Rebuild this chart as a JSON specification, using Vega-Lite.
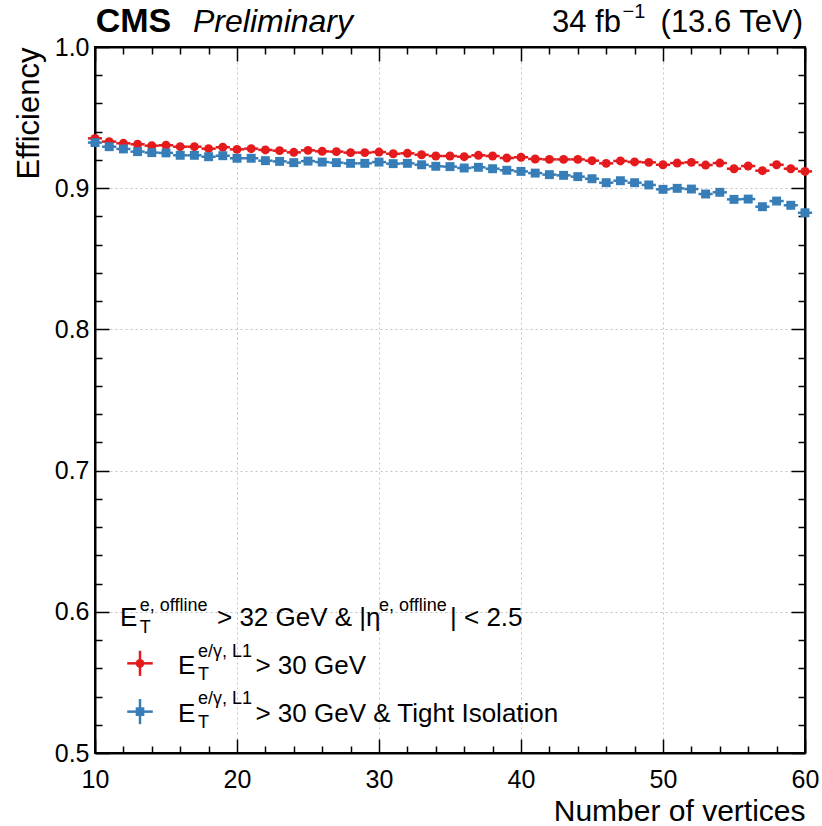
{
  "$schema": "https://vega.github.io/schema/vega-lite/v6.json",
  "width": 710,
  "height": 706,
  "autosize": {"type": "none"},
  "padding": {"left": 95, "top": 47, "right": 17, "bottom": 73},
  "background": "white",
  "config": {
    "view": {"stroke": "#000", "strokeWidth": 2},
    "font": "Liberation Sans",
    "axis": {"domainColor": "#000", "domainWidth": 2, "tickColor": "#000", "tickWidth": 1.5, "labelColor": "#000", "titleColor": "#000", "labelFont": "Liberation Sans", "titleFont": "Liberation Sans", "titleFontWeight": "normal"}
  },
  "datasets": {
    "eff": [
      {"nvtx":10,"series":"L1","eff":0.9353,"err":0.0008,"xerr":0.5},
      {"nvtx":11,"series":"L1","eff":0.9330,"err":0.0008,"xerr":0.5},
      {"nvtx":12,"series":"L1","eff":0.9318,"err":0.0008,"xerr":0.5},
      {"nvtx":13,"series":"L1","eff":0.9311,"err":0.0008,"xerr":0.5},
      {"nvtx":14,"series":"L1","eff":0.9301,"err":0.0008,"xerr":0.5},
      {"nvtx":15,"series":"L1","eff":0.9304,"err":0.0008,"xerr":0.5},
      {"nvtx":16,"series":"L1","eff":0.9294,"err":0.0008,"xerr":0.5},
      {"nvtx":17,"series":"L1","eff":0.9294,"err":0.0008,"xerr":0.5},
      {"nvtx":18,"series":"L1","eff":0.9280,"err":0.0008,"xerr":0.5},
      {"nvtx":19,"series":"L1","eff":0.9290,"err":0.0008,"xerr":0.5},
      {"nvtx":20,"series":"L1","eff":0.9275,"err":0.0008,"xerr":0.5},
      {"nvtx":21,"series":"L1","eff":0.9280,"err":0.0008,"xerr":0.5},
      {"nvtx":22,"series":"L1","eff":0.9271,"err":0.0008,"xerr":0.5},
      {"nvtx":23,"series":"L1","eff":0.9266,"err":0.0008,"xerr":0.5},
      {"nvtx":24,"series":"L1","eff":0.9254,"err":0.0008,"xerr":0.5},
      {"nvtx":25,"series":"L1","eff":0.9268,"err":0.0008,"xerr":0.5},
      {"nvtx":26,"series":"L1","eff":0.9261,"err":0.0008,"xerr":0.5},
      {"nvtx":27,"series":"L1","eff":0.9259,"err":0.0008,"xerr":0.5},
      {"nvtx":28,"series":"L1","eff":0.9252,"err":0.0008,"xerr":0.5},
      {"nvtx":29,"series":"L1","eff":0.9252,"err":0.0008,"xerr":0.5},
      {"nvtx":30,"series":"L1","eff":0.9256,"err":0.0008,"xerr":0.5},
      {"nvtx":31,"series":"L1","eff":0.9244,"err":0.0010,"xerr":0.5},
      {"nvtx":32,"series":"L1","eff":0.9247,"err":0.0010,"xerr":0.5},
      {"nvtx":33,"series":"L1","eff":0.9237,"err":0.0010,"xerr":0.5},
      {"nvtx":34,"series":"L1","eff":0.9228,"err":0.0010,"xerr":0.5},
      {"nvtx":35,"series":"L1","eff":0.9228,"err":0.0010,"xerr":0.5},
      {"nvtx":36,"series":"L1","eff":0.9223,"err":0.0010,"xerr":0.5},
      {"nvtx":37,"series":"L1","eff":0.9233,"err":0.0010,"xerr":0.5},
      {"nvtx":38,"series":"L1","eff":0.9228,"err":0.0010,"xerr":0.5},
      {"nvtx":39,"series":"L1","eff":0.9214,"err":0.0010,"xerr":0.5},
      {"nvtx":40,"series":"L1","eff":0.9219,"err":0.0012,"xerr":0.5},
      {"nvtx":41,"series":"L1","eff":0.9207,"err":0.0012,"xerr":0.5},
      {"nvtx":42,"series":"L1","eff":0.9204,"err":0.0012,"xerr":0.5},
      {"nvtx":43,"series":"L1","eff":0.9204,"err":0.0012,"xerr":0.5},
      {"nvtx":44,"series":"L1","eff":0.9204,"err":0.0012,"xerr":0.5},
      {"nvtx":45,"series":"L1","eff":0.9195,"err":0.0014,"xerr":0.5},
      {"nvtx":46,"series":"L1","eff":0.9176,"err":0.0014,"xerr":0.5},
      {"nvtx":47,"series":"L1","eff":0.9193,"err":0.0014,"xerr":0.5},
      {"nvtx":48,"series":"L1","eff":0.9186,"err":0.0015,"xerr":0.5},
      {"nvtx":49,"series":"L1","eff":0.9183,"err":0.0015,"xerr":0.5},
      {"nvtx":50,"series":"L1","eff":0.9166,"err":0.0016,"xerr":0.5},
      {"nvtx":51,"series":"L1","eff":0.9178,"err":0.0017,"xerr":0.5},
      {"nvtx":52,"series":"L1","eff":0.9183,"err":0.0018,"xerr":0.5},
      {"nvtx":53,"series":"L1","eff":0.9164,"err":0.0019,"xerr":0.5},
      {"nvtx":54,"series":"L1","eff":0.9178,"err":0.0020,"xerr":0.5},
      {"nvtx":55,"series":"L1","eff":0.9138,"err":0.0021,"xerr":0.5},
      {"nvtx":56,"series":"L1","eff":0.9157,"err":0.0022,"xerr":0.5},
      {"nvtx":57,"series":"L1","eff":0.9124,"err":0.0024,"xerr":0.5},
      {"nvtx":58,"series":"L1","eff":0.9166,"err":0.0025,"xerr":0.5},
      {"nvtx":59,"series":"L1","eff":0.9138,"err":0.0027,"xerr":0.5},
      {"nvtx":60,"series":"L1","eff":0.9119,"err":0.0029,"xerr":0.5},
      {"nvtx":10,"series":"Iso","eff":0.9323,"err":0.0008,"xerr":0.5},
      {"nvtx":11,"series":"Iso","eff":0.9294,"err":0.0008,"xerr":0.5},
      {"nvtx":12,"series":"Iso","eff":0.9278,"err":0.0008,"xerr":0.5},
      {"nvtx":13,"series":"Iso","eff":0.9259,"err":0.0008,"xerr":0.5},
      {"nvtx":14,"series":"Iso","eff":0.9252,"err":0.0008,"xerr":0.5},
      {"nvtx":15,"series":"Iso","eff":0.9250,"err":0.0008,"xerr":0.5},
      {"nvtx":16,"series":"Iso","eff":0.9233,"err":0.0008,"xerr":0.5},
      {"nvtx":17,"series":"Iso","eff":0.9233,"err":0.0008,"xerr":0.5},
      {"nvtx":18,"series":"Iso","eff":0.9223,"err":0.0008,"xerr":0.5},
      {"nvtx":19,"series":"Iso","eff":0.9230,"err":0.0008,"xerr":0.5},
      {"nvtx":20,"series":"Iso","eff":0.9212,"err":0.0008,"xerr":0.5},
      {"nvtx":21,"series":"Iso","eff":0.9212,"err":0.0008,"xerr":0.5},
      {"nvtx":22,"series":"Iso","eff":0.9195,"err":0.0008,"xerr":0.5},
      {"nvtx":23,"series":"Iso","eff":0.9190,"err":0.0008,"xerr":0.5},
      {"nvtx":24,"series":"Iso","eff":0.9181,"err":0.0008,"xerr":0.5},
      {"nvtx":25,"series":"Iso","eff":0.9192,"err":0.0008,"xerr":0.5},
      {"nvtx":26,"series":"Iso","eff":0.9185,"err":0.0008,"xerr":0.5},
      {"nvtx":27,"series":"Iso","eff":0.9181,"err":0.0008,"xerr":0.5},
      {"nvtx":28,"series":"Iso","eff":0.9176,"err":0.0008,"xerr":0.5},
      {"nvtx":29,"series":"Iso","eff":0.9176,"err":0.0008,"xerr":0.5},
      {"nvtx":30,"series":"Iso","eff":0.9185,"err":0.0008,"xerr":0.5},
      {"nvtx":31,"series":"Iso","eff":0.9174,"err":0.0010,"xerr":0.5},
      {"nvtx":32,"series":"Iso","eff":0.9176,"err":0.0010,"xerr":0.5},
      {"nvtx":33,"series":"Iso","eff":0.9166,"err":0.0010,"xerr":0.5},
      {"nvtx":34,"series":"Iso","eff":0.9155,"err":0.0010,"xerr":0.5},
      {"nvtx":35,"series":"Iso","eff":0.9153,"err":0.0010,"xerr":0.5},
      {"nvtx":36,"series":"Iso","eff":0.9143,"err":0.0010,"xerr":0.5},
      {"nvtx":37,"series":"Iso","eff":0.9148,"err":0.0010,"xerr":0.5},
      {"nvtx":38,"series":"Iso","eff":0.9138,"err":0.0010,"xerr":0.5},
      {"nvtx":39,"series":"Iso","eff":0.9127,"err":0.0010,"xerr":0.5},
      {"nvtx":40,"series":"Iso","eff":0.9119,"err":0.0012,"xerr":0.5},
      {"nvtx":41,"series":"Iso","eff":0.9107,"err":0.0012,"xerr":0.5},
      {"nvtx":42,"series":"Iso","eff":0.9096,"err":0.0012,"xerr":0.5},
      {"nvtx":43,"series":"Iso","eff":0.9091,"err":0.0012,"xerr":0.5},
      {"nvtx":44,"series":"Iso","eff":0.9082,"err":0.0012,"xerr":0.5},
      {"nvtx":45,"series":"Iso","eff":0.9067,"err":0.0014,"xerr":0.5},
      {"nvtx":46,"series":"Iso","eff":0.9039,"err":0.0014,"xerr":0.5},
      {"nvtx":47,"series":"Iso","eff":0.9053,"err":0.0014,"xerr":0.5},
      {"nvtx":48,"series":"Iso","eff":0.9039,"err":0.0015,"xerr":0.5},
      {"nvtx":49,"series":"Iso","eff":0.9023,"err":0.0015,"xerr":0.5},
      {"nvtx":50,"series":"Iso","eff":0.8992,"err":0.0016,"xerr":0.5},
      {"nvtx":51,"series":"Iso","eff":0.8999,"err":0.0017,"xerr":0.5},
      {"nvtx":52,"series":"Iso","eff":0.8994,"err":0.0018,"xerr":0.5},
      {"nvtx":53,"series":"Iso","eff":0.8959,"err":0.0019,"xerr":0.5},
      {"nvtx":54,"series":"Iso","eff":0.8971,"err":0.0020,"xerr":0.5},
      {"nvtx":55,"series":"Iso","eff":0.8921,"err":0.0021,"xerr":0.5},
      {"nvtx":56,"series":"Iso","eff":0.8923,"err":0.0022,"xerr":0.5},
      {"nvtx":57,"series":"Iso","eff":0.8869,"err":0.0024,"xerr":0.5},
      {"nvtx":58,"series":"Iso","eff":0.8909,"err":0.0025,"xerr":0.5},
      {"nvtx":59,"series":"Iso","eff":0.8879,"err":0.0027,"xerr":0.5},
      {"nvtx":60,"series":"Iso","eff":0.8826,"err":0.0029,"xerr":0.5}
    ]
  },
  "resolve": {"axis": {"x": "independent", "y": "independent"}},
  "layer": [
    {
      "data": {"name": "eff"},
      "mark": {"type": "errorbar", "thickness": 2.5},
      "encoding": {
        "x": {"field": "nvtx", "type": "quantitative", "scale": {"domain": [10, 60], "nice": false, "zero": false}, "axis": null},
        "xError": {"field": "xerr"},
        "y": {"field": "eff", "type": "quantitative", "scale": {"domain": [0.5, 1.0], "nice": false, "zero": false}, "axis": null},
        "color": {"field": "series", "type": "nominal", "scale": {"domain": ["L1", "Iso"], "range": ["#e41a1c", "#377eb8"]}, "legend": null}
      }
    },
    {
      "data": {"name": "eff"},
      "mark": {"type": "errorbar", "thickness": 2.5},
      "encoding": {
        "x": {"field": "nvtx", "type": "quantitative", "axis": null},
        "y": {"field": "eff", "type": "quantitative", "axis": null},
        "yError": {"field": "err"},
        "color": {"field": "series", "type": "nominal", "legend": null}
      }
    },
    {
      "data": {"name": "eff"},
      "mark": {"type": "point", "filled": true, "opacity": 1},
      "encoding": {
        "x": {"field": "nvtx", "type": "quantitative",
          "axis": {"orient": "bottom", "values": [10,12,14,16,18,20,22,24,26,28,30,32,34,36,38,40,42,44,46,48,50,52,54,56,58,60],
            "labelExpr": "datum.value % 10 === 0 ? datum.label : ''",
            "tickSize": {"condition": {"test": "datum.value % 10 === 0", "value": -14}, "value": -7},
            "labelPadding": 28, "labelFontSize": 25, "labelFlush": false,
            "grid": true, "gridDash": [2, 3], "gridColor": "#c4c4c4", "gridWidth": 1,
            "gridOpacity": {"condition": {"test": "datum.value % 10 === 0", "value": 1}, "value": 0},
            "title": "Number of vertices", "titleFontSize": 30, "titleAnchor": "end", "titlePadding": 4}},
        "y": {"field": "eff", "type": "quantitative",
          "axis": {"orient": "left", "values": [0.5,0.52,0.54,0.56,0.58,0.6,0.62,0.64,0.66,0.68,0.7,0.72,0.74,0.76,0.78,0.8,0.82,0.84,0.86,0.88,0.9,0.92,0.94,0.96,0.98,1.0],
            "format": ".1f",
            "labelExpr": "abs(datum.value*10 - round(datum.value*10)) < 0.001 ? datum.label : ''",
            "tickSize": {"condition": {"test": "abs(datum.value*10 - round(datum.value*10)) < 0.001", "value": -14}, "value": -7},
            "labelPadding": 20, "labelFontSize": 25,
            "grid": true, "gridDash": [2, 3], "gridColor": "#c4c4c4", "gridWidth": 1,
            "gridOpacity": {"condition": {"test": "abs(datum.value*10 - round(datum.value*10)) < 0.001", "value": 1}, "value": 0},
            "title": "Efficiency", "titleFontSize": 31, "titleAnchor": "end", "titlePadding": 9}},
        "color": {"field": "series", "type": "nominal", "legend": null},
        "shape": {"field": "series", "type": "nominal", "scale": {"domain": ["L1", "Iso"], "range": ["circle", "square"]}, "legend": null},
        "size": {"value": 80}
      }
    },
    {
      "data": {"name": "eff"},
      "mark": {"type": "point", "opacity": 0},
      "encoding": {
        "x": {"field": "nvtx", "type": "quantitative",
          "axis": {"orient": "top", "values": [10,12,14,16,18,20,22,24,26,28,30,32,34,36,38,40,42,44,46,48,50,52,54,56,58,60],
            "labels": false, "title": null, "grid": false,
            "tickSize": {"condition": {"test": "datum.value % 10 === 0", "value": -14}, "value": -7}}},
        "y": {"field": "eff", "type": "quantitative",
          "axis": {"orient": "right", "values": [0.5,0.52,0.54,0.56,0.58,0.6,0.62,0.64,0.66,0.68,0.7,0.72,0.74,0.76,0.78,0.8,0.82,0.84,0.86,0.88,0.9,0.92,0.94,0.96,0.98,1.0],
            "labels": false, "title": null, "grid": false,
            "tickSize": {"condition": {"test": "abs(datum.value*10 - round(datum.value*10)) < 0.001", "value": -14}, "value": -7}}}
      }
    },
    {
      "data": {"values": [{"t": "CMS"}]},
      "mark": {"type": "text", "font": "Liberation Sans", "fontWeight": "bold", "fontSize": 34, "align": "left", "baseline": "alphabetic", "color": "#000"},
      "encoding": {"x": {"datum": 10.05, "type": "quantitative", "axis": null}, "y": {"datum": 1.0104, "type": "quantitative", "axis": null}, "text": {"field": "t"}}
    },
    {
      "data": {"values": [{"t": "Preliminary"}]},
      "mark": {"type": "text", "font": "Liberation Sans", "fontStyle": "italic", "fontSize": 32, "align": "left", "baseline": "alphabetic", "color": "#000"},
      "encoding": {"x": {"datum": 16.9, "type": "quantitative", "axis": null}, "y": {"datum": 1.0104, "type": "quantitative", "axis": null}, "text": {"field": "t"}}
    },
    {
      "data": {"values": [{"t": "34 fb"}]},
      "mark": {"type": "text", "font": "Liberation Sans", "fontSize": 31, "align": "left", "baseline": "alphabetic", "color": "#000"},
      "encoding": {"x": {"datum": 42.18, "type": "quantitative", "axis": null}, "y": {"datum": 1.0104, "type": "quantitative", "axis": null}, "text": {"field": "t"}}
    },
    {
      "data": {"values": [{"t": "−1"}]},
      "mark": {"type": "text", "font": "Liberation Sans", "fontSize": 20, "align": "left", "baseline": "alphabetic", "color": "#000"},
      "encoding": {"x": {"datum": 47.15, "type": "quantitative", "axis": null}, "y": {"datum": 1.0204, "type": "quantitative", "axis": null}, "text": {"field": "t"}}
    },
    {
      "data": {"values": [{"t": "(13.6 TeV)"}]},
      "mark": {"type": "text", "font": "Liberation Sans", "fontSize": 31, "align": "right", "baseline": "alphabetic", "color": "#000"},
      "encoding": {"x": {"datum": 59.86, "type": "quantitative", "axis": null}, "y": {"datum": 1.0104, "type": "quantitative", "axis": null}, "text": {"field": "t"}}
    },
    {
      "data": {"values": [{"t": "E"}]},
      "mark": {"type": "text", "font": "Liberation Sans", "fontSize": 26, "align": "left", "baseline": "alphabetic", "color": "#000"},
      "encoding": {"x": {"datum": 11.76, "type": "quantitative", "axis": null}, "y": {"datum": 0.5899, "type": "quantitative", "axis": null}, "text": {"field": "t"}}
    },
    {
      "data": {"values": [{"t": "e, offline"}]},
      "mark": {"type": "text", "font": "Liberation Sans", "fontSize": 18, "align": "left", "baseline": "alphabetic", "color": "#000"},
      "encoding": {"x": {"datum": 13.15, "type": "quantitative", "axis": null}, "y": {"datum": 0.6004, "type": "quantitative", "axis": null}, "text": {"field": "t"}}
    },
    {
      "data": {"values": [{"t": "T"}]},
      "mark": {"type": "text", "font": "Liberation Sans", "fontSize": 18, "align": "left", "baseline": "alphabetic", "color": "#000"},
      "encoding": {"x": {"datum": 13.15, "type": "quantitative", "axis": null}, "y": {"datum": 0.5853, "type": "quantitative", "axis": null}, "text": {"field": "t"}}
    },
    {
      "data": {"values": [{"t": "> 32 GeV & |η"}]},
      "mark": {"type": "text", "font": "Liberation Sans", "fontSize": 26, "align": "left", "baseline": "alphabetic", "color": "#000"},
      "encoding": {"x": {"datum": 18.59, "type": "quantitative", "axis": null}, "y": {"datum": 0.5899, "type": "quantitative", "axis": null}, "text": {"field": "t"}}
    },
    {
      "data": {"values": [{"t": "e, offline"}]},
      "mark": {"type": "text", "font": "Liberation Sans", "fontSize": 18, "align": "left", "baseline": "alphabetic", "color": "#000"},
      "encoding": {"x": {"datum": 30.0, "type": "quantitative", "axis": null}, "y": {"datum": 0.6004, "type": "quantitative", "axis": null}, "text": {"field": "t"}}
    },
    {
      "data": {"values": [{"t": "| < 2.5"}]},
      "mark": {"type": "text", "font": "Liberation Sans", "fontSize": 26, "align": "left", "baseline": "alphabetic", "color": "#000"},
      "encoding": {"x": {"datum": 35.0, "type": "quantitative", "axis": null}, "y": {"datum": 0.5899, "type": "quantitative", "axis": null}, "text": {"field": "t"}}
    },
    {
      "data": {"values": [{"t": "E"}]},
      "mark": {"type": "text", "font": "Liberation Sans", "fontSize": 26, "align": "left", "baseline": "alphabetic", "color": "#000"},
      "encoding": {"x": {"datum": 15.85, "type": "quantitative", "axis": null}, "y": {"datum": 0.556, "type": "quantitative", "axis": null}, "text": {"field": "t"}}
    },
    {
      "data": {"values": [{"t": "e/γ, L1"}]},
      "mark": {"type": "text", "font": "Liberation Sans", "fontSize": 18, "align": "left", "baseline": "alphabetic", "color": "#000"},
      "encoding": {"x": {"datum": 17.25, "type": "quantitative", "axis": null}, "y": {"datum": 0.5683, "type": "quantitative", "axis": null}, "text": {"field": "t"}}
    },
    {
      "data": {"values": [{"t": "T"}]},
      "mark": {"type": "text", "font": "Liberation Sans", "fontSize": 18, "align": "left", "baseline": "alphabetic", "color": "#000"},
      "encoding": {"x": {"datum": 17.25, "type": "quantitative", "axis": null}, "y": {"datum": 0.5516, "type": "quantitative", "axis": null}, "text": {"field": "t"}}
    },
    {
      "data": {"values": [{"t": "> 30 GeV"}]},
      "mark": {"type": "text", "font": "Liberation Sans", "fontSize": 26, "align": "left", "baseline": "alphabetic", "color": "#000"},
      "encoding": {"x": {"datum": 21.3, "type": "quantitative", "axis": null}, "y": {"datum": 0.556, "type": "quantitative", "axis": null}, "text": {"field": "t"}}
    },
    {
      "data": {"values": [{"t": "E"}]},
      "mark": {"type": "text", "font": "Liberation Sans", "fontSize": 26, "align": "left", "baseline": "alphabetic", "color": "#000"},
      "encoding": {"x": {"datum": 15.85, "type": "quantitative", "axis": null}, "y": {"datum": 0.5222, "type": "quantitative", "axis": null}, "text": {"field": "t"}}
    },
    {
      "data": {"values": [{"t": "e/γ, L1"}]},
      "mark": {"type": "text", "font": "Liberation Sans", "fontSize": 18, "align": "left", "baseline": "alphabetic", "color": "#000"},
      "encoding": {"x": {"datum": 17.25, "type": "quantitative", "axis": null}, "y": {"datum": 0.5345, "type": "quantitative", "axis": null}, "text": {"field": "t"}}
    },
    {
      "data": {"values": [{"t": "T"}]},
      "mark": {"type": "text", "font": "Liberation Sans", "fontSize": 18, "align": "left", "baseline": "alphabetic", "color": "#000"},
      "encoding": {"x": {"datum": 17.25, "type": "quantitative", "axis": null}, "y": {"datum": 0.5178, "type": "quantitative", "axis": null}, "text": {"field": "t"}}
    },
    {
      "data": {"values": [{"t": "> 30 GeV & Tight Isolation"}]},
      "mark": {"type": "text", "font": "Liberation Sans", "fontSize": 26, "align": "left", "baseline": "alphabetic", "color": "#000"},
      "encoding": {"x": {"datum": 21.3, "type": "quantitative", "axis": null}, "y": {"datum": 0.5222, "type": "quantitative", "axis": null}, "text": {"field": "t"}}
    },
    {
      "data": {"values": [{"series": "L1"}]},
      "mark": {"type": "rule", "color": "#e41a1c", "strokeWidth": 2.5},
      "encoding": {"x": {"datum": 12.27, "type": "quantitative", "axis": null}, "x2": {"datum": 14.07}, "y": {"datum": 0.5635, "type": "quantitative", "axis": null}}
    },
    {
      "data": {"values": [{"series": "L1"}]},
      "mark": {"type": "rule", "color": "#e41a1c", "strokeWidth": 2.5},
      "encoding": {"x": {"datum": 13.17, "type": "quantitative", "axis": null}, "y": {"datum": 0.5546, "type": "quantitative", "axis": null}, "y2": {"datum": 0.5724}}
    },
    {
      "data": {"values": [{"series": "L1"}]},
      "mark": {"type": "point", "filled": true, "opacity": 1, "shape": "circle", "size": 75, "color": "#e41a1c"},
      "encoding": {"x": {"datum": 13.17, "type": "quantitative", "axis": null}, "y": {"datum": 0.5635, "type": "quantitative", "axis": null}}
    },
    {
      "data": {"values": [{"series": "Iso"}]},
      "mark": {"type": "rule", "color": "#377eb8", "strokeWidth": 2.5},
      "encoding": {"x": {"datum": 12.27, "type": "quantitative", "axis": null}, "x2": {"datum": 14.07}, "y": {"datum": 0.5293, "type": "quantitative", "axis": null}}
    },
    {
      "data": {"values": [{"series": "Iso"}]},
      "mark": {"type": "rule", "color": "#377eb8", "strokeWidth": 2.5},
      "encoding": {"x": {"datum": 13.17, "type": "quantitative", "axis": null}, "y": {"datum": 0.5204, "type": "quantitative", "axis": null}, "y2": {"datum": 0.5382}}
    },
    {
      "data": {"values": [{"series": "Iso"}]},
      "mark": {"type": "point", "filled": true, "opacity": 1, "shape": "square", "size": 75, "color": "#377eb8"},
      "encoding": {"x": {"datum": 13.17, "type": "quantitative", "axis": null}, "y": {"datum": 0.5293, "type": "quantitative", "axis": null}}
    }
  ]
}
